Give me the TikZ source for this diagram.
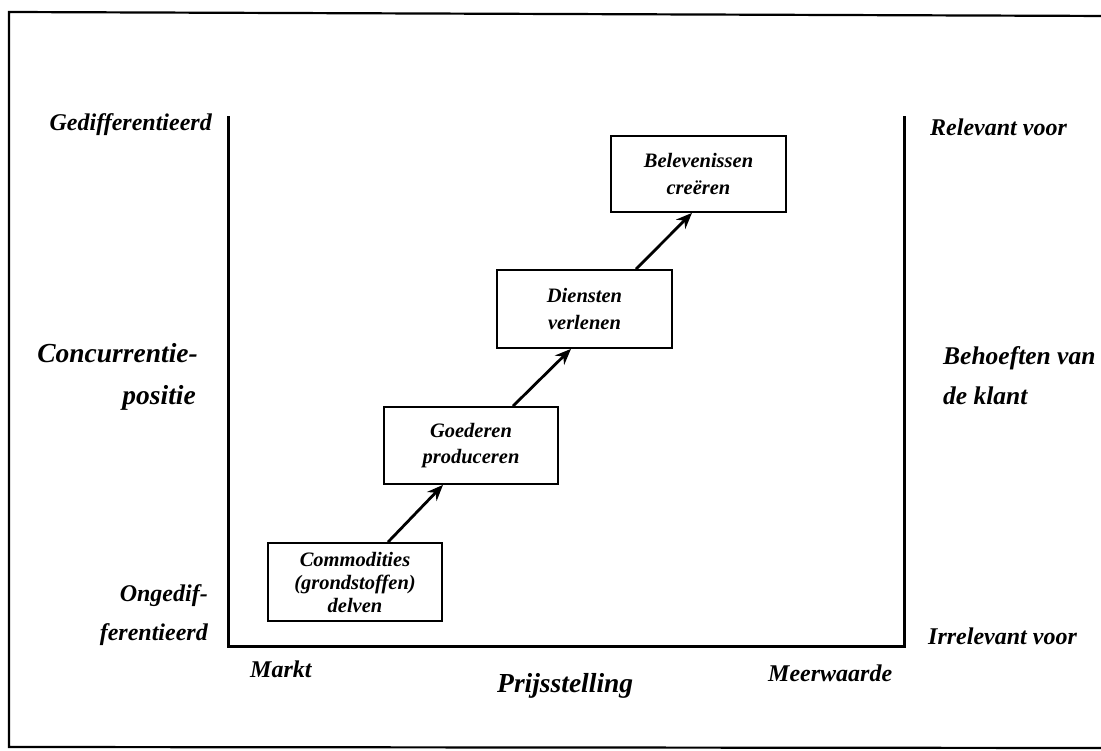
\documentclass[tikz,border=0pt]{standalone}
\usepackage{fontspec}
\setmainfont{Liberation Serif}
\usetikzlibrary{arrows.meta}
\tikzset{
  stagebox/.style={draw=black, line width=1.8pt, minimum width=174pt, minimum height=77pt,
    inner sep=0pt, align=center, font=\fontsize{20.5}{26.5}\selectfont\bfseries\itshape},
  lbl/.style={inner sep=0pt, font=\fontsize{24}{28}\selectfont\bfseries\itshape},
  biglbl/.style={inner sep=0pt, font=\fontsize{27.5}{30}\selectfont\bfseries\itshape},
  axis/.style={line width=3pt, line cap=rect, line join=miter},
  frame/.style={line width=2.2pt},
  stepArrow/.style={line width=2.8pt, -{Stealth[length=16pt,width=13pt]}}
}
\begin{document}
\begin{tikzpicture}[x=1pt,y=-1pt]
\useasboundingbox (0,0) rectangle (1101,751);
\fill[white] (0,0) rectangle (1101,751);
% outer frame (right edge cut off)
\draw[frame] (1110,16) -- (9,12) -- (9,747) -- (1110,748);
% axes
\coordinate (tl) at (228,118);
\coordinate (bl) at (228,646);
\coordinate (br) at (904,646);
\coordinate (tr) at (904,118);
\draw[axis] (tl) -- (bl) -- (br) -- (tr);
% stage boxes
\node[stagebox, font=\fontsize{20.5}{23}\selectfont\bfseries\itshape, minimum height=78pt] (comm) at (355,582) {Commodities\\(grondstoffen)\\delven};
\node[stagebox] (good) at (471,445.5) {Goederen\\produceren};
\node[stagebox, minimum width=175pt, minimum height=78pt] (dien) at (584.5,309) {Diensten\\verlenen};
\node[stagebox, minimum width=175pt, minimum height=76pt] (bele) at (698.5,174) {Belevenissen\\creëren};
% arrows
\draw[stepArrow] ([xshift=33pt]comm.north) -- ([xshift=-28pt]good.south);
\draw[stepArrow] ([xshift=42pt]good.north) -- ([xshift=-13.5pt]dien.south);
\draw[stepArrow] ([xshift=51.5pt]dien.north) -- ([xshift=-6.5pt]bele.south);
% left labels
\node[lbl, anchor=mid east] (gedif) at (212,128) {Gedifferentieerd};
\node[biglbl, anchor=mid east] (conc1) at (198,360) {Concurrentie-};
\node[biglbl, anchor=mid east] (conc2) at (196,402) {positie};
\node[lbl, anchor=mid east] (onge1) at (208,599) {Ongedif-};
\node[lbl, anchor=mid east] (onge2) at (208,638) {ferentieerd};
% right labels
\node[lbl, anchor=mid west] (rel) at (930,133) {Relevant voor};
\node[biglbl, font=\fontsize{25.5}{30}\selectfont\bfseries\itshape, anchor=mid west] (beh1) at (943,362) {Behoeften van};
\node[biglbl, font=\fontsize{25.5}{30}\selectfont\bfseries\itshape, anchor=mid west] (beh2) at (943,402) {de klant};
\node[lbl, anchor=mid west] (irrel) at (928,642) {Irrelevant voor};
% bottom labels
\node[lbl, anchor=mid west] (markt) at (250,675) {Markt};
\node[biglbl, anchor=mid west] (prijs) at (497,690) {Prijsstelling};
\node[lbl, anchor=mid west] (meer) at (768,679) {Meerwaarde};
\end{tikzpicture}
\end{document}
